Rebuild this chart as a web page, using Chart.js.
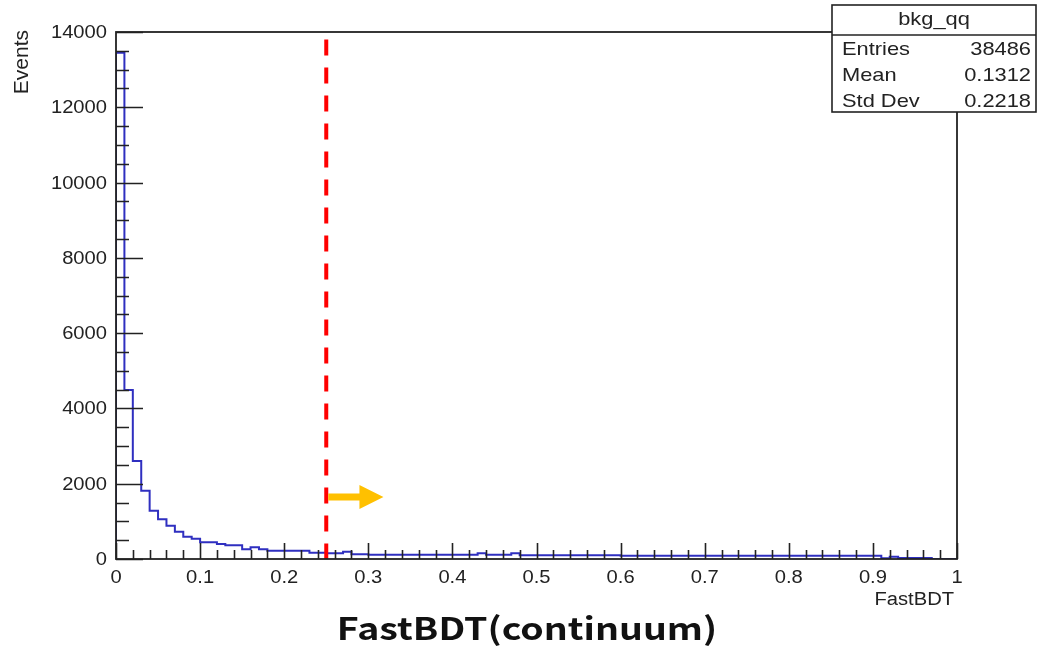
<!DOCTYPE html>
<html>
<head>
<meta charset="utf-8">
<title>FastBDT(continuum)</title>
<script src="https://cdn.jsdelivr.net/npm/chart.js@4/dist/chart.umd.min.js"></script>
<style>
  html, body { margin: 0; padding: 0; background: #fff; overflow: hidden; }
  canvas { display: block; }
</style>
</head>
<body>
<canvas id="bdtChart" width="1038" height="650"></canvas>
<script>
// FastBDT output for bkg_qq, 100 bins of width 0.01 on [0, 1]
const binWidth = 0.01;
const counts = [
  13450, 4490, 2604, 1815, 1284, 1054, 886, 726, 593, 540,
  443, 443, 399, 363, 363, 257, 310, 257, 221, 221,
  221, 221, 221, 168, 168, 150, 150, 190, 125, 125,
  110, 110, 110, 110, 110, 110, 110, 110, 110, 110,
  110, 110, 110, 150, 110, 110, 110, 150, 100, 100,
  100, 100, 100, 100, 100, 100, 100, 100, 100, 100,
  85, 85, 85, 85, 85, 85, 85, 85, 85, 85,
  85, 85, 85, 85, 85, 85, 85, 85, 85, 85,
  85, 85, 85, 85, 85, 85, 85, 85, 85, 85,
  85, 20, 60, 25, 25, 25, 25, 0, 0, 0
];

// axis ticks
const yMajor = [0, 2000, 4000, 6000, 8000, 10000, 12000, 14000];
const yMinorStep = 500;
const xMajor = [0, 0.1, 0.2, 0.3, 0.4, 0.5, 0.6, 0.7, 0.8, 0.9, 1];
const xMajorLabels = ['0', '0.1', '0.2', '0.3', '0.4', '0.5', '0.6', '0.7', '0.8', '0.9', '1'];
const xMinorStep = 0.02;

// stats box
const statsTitle = 'bkg_qq';
const statsLabels = ['Entries', 'Mean', 'Std Dev'];
const statsValues = ['38486', '0.1312', '0.2218'];

// cut marker
const cutValue = 0.25;
const cutTop = 13800;
const arrowY = 1650;
const arrowEnd = 0.318;

// histogram outline: start at (0, 0), one point per left bin edge, close at (1, 0)
const points = [{ x: 0, y: 0 }];
counts.forEach((c, i) => points.push({ x: +(i * binWidth).toFixed(2), y: c }));
points.push({ x: 1, y: counts[counts.length - 1] });
points.push({ x: 1, y: 0 });

const FONT = '"Liberation Sans", Arial, Helvetica, sans-serif';

function drawText(ctx, str, px, py, align, sx) {
  ctx.save();
  ctx.translate(px, py);
  ctx.scale(sx, 1);
  ctx.textAlign = align;
  ctx.fillText(str, 0, 0);
  ctx.restore();
}

const rootFrame = {
  id: 'rootFrame',
  afterDatasetsDraw(chart) {
    const { ctx, chartArea: a, scales: { x, y } } = chart;
    ctx.save();

    // ─── cut line ───
    const cx = x.getPixelForValue(cutValue);
    ctx.strokeStyle = '#ff0000';
    ctx.lineWidth = 4;
    ctx.setLineDash([16, 12]);
    ctx.beginPath();
    ctx.moveTo(cx, y.getPixelForValue(cutTop));
    ctx.lineTo(cx, a.bottom);
    ctx.stroke();
    ctx.setLineDash([]);

    // ─── arrow ───
    const ay = y.getPixelForValue(arrowY);
    const tip = x.getPixelForValue(arrowEnd);
    const headLen = 24, headHalf = 12, shaftHalf = 3.5;
    ctx.fillStyle = '#ffc000';
    ctx.beginPath();
    ctx.moveTo(cx + 2, ay - shaftHalf);
    ctx.lineTo(tip - headLen, ay - shaftHalf);
    ctx.lineTo(tip - headLen, ay - headHalf);
    ctx.lineTo(tip, ay);
    ctx.lineTo(tip - headLen, ay + headHalf);
    ctx.lineTo(tip - headLen, ay + shaftHalf);
    ctx.lineTo(cx + 2, ay + shaftHalf);
    ctx.closePath();
    ctx.fill();

    // ─── ticks ───
    ctx.strokeStyle = '#222';
    ctx.lineWidth = 1.6;
    ctx.beginPath();
    for (let v = 0; v <= y.max + 1e-6; v += yMinorStep) {
      const py = Math.round(y.getPixelForValue(v)) + 0.5;
      const len = yMajor.includes(v) ? 27 : 13;
      ctx.moveTo(a.left, py);
      ctx.lineTo(a.left + len, py);
    }
    for (let i = 0; i <= Math.round(1 / xMinorStep); i++) {
      const v = +(i * xMinorStep).toFixed(2);
      const px = Math.round(x.getPixelForValue(v)) + 0.5;
      const len = i % 5 === 0 ? 16 : 9;
      ctx.moveTo(px, a.bottom);
      ctx.lineTo(px, a.bottom - len);
    }
    ctx.stroke();

    // ─── frame ───
    ctx.strokeStyle = '#222';
    ctx.lineWidth = 1.8;
    ctx.strokeRect(a.left, a.top, a.right - a.left, a.bottom - a.top);

    // ─── tick labels ───
    ctx.fillStyle = '#222';
    ctx.font = '18px ' + FONT;
    ctx.textBaseline = 'middle';
    yMajor.forEach(v => {
      drawText(ctx, String(v), a.left - 9, y.getPixelForValue(v) + 1, 'right', 1.12);
    });
    ctx.textBaseline = 'alphabetic';
    xMajor.forEach((v, i) => {
      drawText(ctx, xMajorLabels[i], x.getPixelForValue(v), a.bottom + 24, 'center', 1.12);
    });

    // ─── axis titles ───
    drawText(ctx, 'FastBDT', a.right - 3, a.bottom + 46, 'right', 1.12);
    ctx.save();
    ctx.font = '21px ' + FONT;
    ctx.translate(28, a.top - 2);
    ctx.rotate(-Math.PI / 2);
    ctx.textAlign = 'right';
    ctx.fillText('Events', 0, 0);
    ctx.restore();

    // ─── stats box ───
    const bx = 832, by = 5, bw = 204, bh = 107, sep = 30;
    ctx.fillStyle = '#fff';
    ctx.fillRect(bx, by, bw, bh);
    ctx.strokeStyle = '#222';
    ctx.lineWidth = 1.6;
    ctx.strokeRect(bx, by, bw, bh);
    ctx.beginPath();
    ctx.moveTo(bx, by + sep);
    ctx.lineTo(bx + bw, by + sep);
    ctx.stroke();
    ctx.fillStyle = '#222';
    ctx.font = '19px ' + FONT;
    drawText(ctx, statsTitle, bx + bw / 2, by + 20, 'center', 1.15);
    const rowBase = [55, 81, 107];
    statsLabels.forEach((label, i) => {
      drawText(ctx, label, bx + 10, rowBase[i], 'left', 1.15);
      drawText(ctx, statsValues[i], bx + bw - 5, rowBase[i], 'right', 1.15);
    });

    // ─── caption ───
    ctx.font = 'bold 31px "Noto Sans CJK JP", "Noto Sans", sans-serif';
    ctx.fillStyle = '#111';
    drawText(ctx, 'FastBDT(continuum)', 527, 640, 'center', 1.21);

    ctx.restore();
  }
};

new Chart(document.getElementById('bdtChart'), {
  type: 'line',
  data: {
    datasets: [{
      data: points,
      stepped: true,
      borderColor: '#2f2fc0',
      borderWidth: 2,
      pointRadius: 0,
      fill: false,
    }],
  },
  options: {
    responsive: false,
    animation: false,
    devicePixelRatio: 1,
    events: [],
    layout: { padding: { left: 116, right: 81, top: 32, bottom: 91 } },
    scales: {
      x: { type: 'linear', min: 0, max: 1, display: false },
      y: { type: 'linear', min: 0, max: 14000, display: false },
    },
    plugins: {
      legend: { display: false },
      tooltip: { enabled: false },
    },
  },
  plugins: [rootFrame],
});
</script>
</body>
</html>
